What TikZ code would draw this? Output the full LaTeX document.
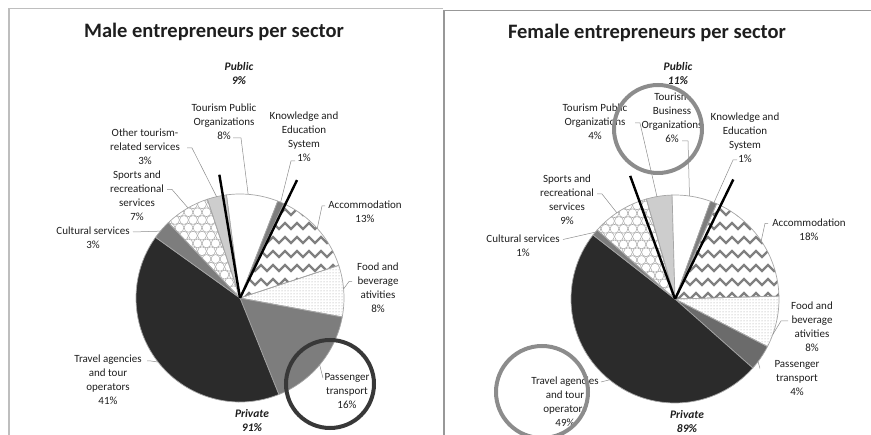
\documentclass[tikz,border=0pt]{standalone}
\usepackage{fontspec}
\setmainfont{Carlito}
\usepackage{xcolor}
\usetikzlibrary{patterns,decorations.pathmorphing}
\definecolor{ink}{RGB}{30,30,30}
\definecolor{dark}{RGB}{43,43,43}
\definecolor{midgray}{RGB}{125,125,125}
\definecolor{lightgray}{RGB}{205,205,205}
\definecolor{edge}{RGB}{166,166,166}
\definecolor{leader}{RGB}{140,140,140}
\definecolor{frame}{RGB}{190,190,190}
\tikzset{
  lbl/.style={font=\fontsize{11}{14}\selectfont, align=center, inner sep=0pt, text=ink},
  sect/.style={font=\fontsize{11.5}{14}\selectfont\bfseries\itshape, align=center, inner sep=0pt, text=ink},
  heading/.style={font=\fontsize{20.5}{24}\selectfont\bfseries, inner sep=0pt, text=ink},
  slice/.style={draw=edge, line width=0.7pt},
  lead/.style={draw=leader, line width=0.5pt},
  cut/.style={draw=black, line width=2.4pt},
  zz/.style={draw=black!50, line width=2.2pt, decorate, decoration={zigzag, segment length=12pt, amplitude=3pt}},
  bubble/.style={draw=black!35, line width=0.5pt},
  ring/.style={line width=4pt}
}
\begin{document}
\begin{tikzpicture}[x=1pt, y=1pt]
\useasboundingbox (0,0) rectangle (871,-435);
% Frames
\draw[frame, line width=1.2pt] (443,-8.5) -- (9,-8.5) -- (9,-435);
\draw[frame!80!black, line width=1.2pt] (871,-10.5) -- (444,-10.5) -- (444,-435);

% ---------------- Male chart ----------------
\coordinate (mc) at (240,-298);
\foreach \a/\b/\col in {97.5/68.7/white, 68.7/65.1/midgray, -10.5/-68.1/midgray, -68.1/-215.7/dark, -215.7/-226.5/midgray, -251.7/-262.5/lightgray}
  \draw[slice, fill=\col] (mc) -- ++(\a:104) arc[start angle=\a, end angle=\b, radius=104] -- cycle;
% Food: dots
\draw[slice, pattern=dots, pattern color=black!40] (mc) -- ++(18.3:104) arc[start angle=18.3, end angle=-10.5, radius=104] -- cycle;
% Accommodation: zigzag
\begin{scope}
  \clip (mc) -- ++(65.1:104) arc[start angle=65.1, end angle=18.3, radius=104] -- cycle;
  \foreach \yy in {2,16,...,100}
    \draw[zz] ([shift={(-6,\yy)}]mc) -- ++(118,0);
\end{scope}
\draw[slice] (mc) -- ++(65.1:104) arc[start angle=65.1, end angle=18.3, radius=104] -- cycle;
% Sports: circles
\begin{scope}
  \clip (mc) -- ++(-226.5:104) arc[start angle=-226.5, end angle=-251.7, radius=104] -- cycle;
  \foreach \j [evaluate=\j as \off using {4.5*mod(\j,2)}] in {0,...,14}
    \foreach \i in {0,...,11}
      \draw[bubble] ([shift={({-92+9*\i+\off},{7.8*\j})}]mc) circle (4.4);
\end{scope}
\draw[slice] (mc) -- ++(-226.5:104) arc[start angle=-226.5, end angle=-251.7, radius=104] -- cycle;
\draw[cut] (mc) -- ++(99.5:125);
\draw[cut] (mc) -- ++(64.2:131);

% Labels
\node[heading] (mtitle) at (214,-32) {Male entrepreneurs per sector};
\node[sect] (mpub) at (239,-74) {Public\\9\%};
\node[lbl] (mtpo) at (224,-122) {Tourism Public\\Organizations\\8\%};
\node[lbl] (mkes) at (304,-137) {Knowledge and\\Education\\System\\1\%};
\node[lbl] (mother) at (145,-147) {Other tourism-\\related services\\3\%};
\node[lbl] (msport) at (137,-195.5) {Sports and\\recreational\\services\\7\%};
\node[lbl] (mcult) at (93,-238) {Cultural services\\3\%};
\node[lbl] (macc) at (365,-212) {Accommodation\\13\%};
\node[lbl] (mfood) at (378,-287.5) {Food and\\beverage\\ativities\\8\%};
\node[lbl] (mpass) at (347,-391) {Passenger\\transport\\16\%};
\node[lbl] (mtrav) at (108,-380) {Travel agencies\\and tour\\operators\\41\%};
\node[sect] (mpriv) at (252,-421) {Private\\91\%};

% Leaders
\draw[lead] ([shift={(9,-16)}]mtpo.center) -- ++(8,0) -- ([shift={(85.5:104)}]mc);
\draw[lead] ([shift={(-9,-24)}]mkes.center) -- ++(-4,0) -- ([shift={(67:104)}]mc);
\draw[lead] ([shift={(42,-1)}]mother.center) -- ++(5,0) -- ([shift={(103:104)}]mc);
\draw[lead] ([shift={(30,6)}]msport.center) -- ++(5,0) -- ([shift={(120:104)}]mc);
\draw[lead] ([shift={(40,6)}]mcult.center) -- ([shift={(140:104)}]mc);
\draw[lead] ([shift={(-40,6)}]macc.center) -- ++(-3,0) -- ([shift={(42:104)}]mc);
\draw[lead] ([shift={(-26,6)}]mfood.center) -- ++(-3,0) -- ([shift={(5:104)}]mc);
\draw[lead] ([shift={(-24,13)}]mpass.center) -- ([shift={(-40:104)}]mc);
\draw[lead] ([shift={(39,19)}]mtrav.center) -- ++(4,0) -- ([shift={(218:104)}]mc);
\draw[ring, draw=black!78] (330,-384) circle (44);

% ---------------- Female chart ----------------
\coordinate (fc) at (675,-299);
\foreach \a/\b/\col in {106/91.6/lightgray, 91.6/70/white, 70/66.4/midgray, -27.2/-41.6/black!58, -41.6/-218/dark, -218/-221.6/midgray}
  \draw[slice, fill=\col] (fc) -- ++(\a:104) arc[start angle=\a, end angle=\b, radius=104] -- cycle;
% Food: dots
\draw[slice, pattern=dots, pattern color=black!40] (fc) -- ++(1.6:104) arc[start angle=1.6, end angle=-27.2, radius=104] -- cycle;
% Accommodation: zigzag
\begin{scope}
  \clip (fc) -- ++(66.4:104) arc[start angle=66.4, end angle=1.6, radius=104] -- cycle;
  \foreach \yy in {3,17,...,101}
    \draw[zz] ([shift={(-6,\yy)}]fc) -- ++(118,0);
\end{scope}
\draw[slice] (fc) -- ++(66.4:104) arc[start angle=66.4, end angle=1.6, radius=104] -- cycle;
% Sports: circles
\begin{scope}
  \clip (fc) -- ++(-221.6:104) arc[start angle=-221.6, end angle=-254, radius=104] -- cycle;
  \foreach \j [evaluate=\j as \off using {4.5*mod(\j,2)}] in {0,...,14}
    \foreach \i in {0,...,11}
      \draw[bubble] ([shift={({-92+9*\i+\off},{7.8*\j})}]fc) circle (4.4);
\end{scope}
\draw[slice] (fc) -- ++(-221.6:104) arc[start angle=-221.6, end angle=-254, radius=104] -- cycle;
\draw[cut] (fc) -- ++(110:131);
\draw[cut] (fc) -- ++(64:133);

% Labels
\node[heading] (ftitle) at (647,-33) {Female entrepreneurs per sector};
\node[sect] (fpub) at (678,-74) {Public\\11\%};
\node[lbl] (ftbo) at (672,-118) {Tourism\\Business\\Organizations\\6\%};
\node[lbl] (ftpo) at (595,-122) {Tourism Public\\Organizations\\4\%};
\node[lbl] (fkes) at (745,-138) {Knowledge and\\Education\\System\\1\%};
\node[lbl] (fsport) at (567,-200) {Sports and\\recreational\\services\\9\%};
\node[lbl] (fcult) at (523,-245.5) {Cultural services\\1\%};
\node[lbl] (facc) at (809,-229.5) {Accommodation\\18\%};
\node[lbl] (ffood) at (812,-327) {Food and\\beverage\\ativities\\8\%};
\node[lbl] (fpass) at (797,-378.5) {Passenger\\transport\\4\%};
\node[lbl] (ftrav) at (565,-402) {Travel agencies\\and tour\\operators\\49\%};
\node[sect] (fpriv) at (687,-421.5) {Private\\89\%};

% Leaders
\draw[lead] ([shift={(10,-23)}]ftbo.center) -- ++(6,0) -- ([shift={(82:104)}]fc);
\draw[lead] ([shift={(40,-1)}]ftpo.center) -- ++(5,0) -- ([shift={(100:104)}]fc);
\draw[lead] ([shift={(-8,-22)}]fkes.center) -- ++(-4,0) -- ([shift={(68:104)}]fc);
\draw[lead] ([shift={(30,6)}]fsport.center) -- ++(5,0) -- ([shift={(124:104)}]fc);
\draw[lead] ([shift={(40,6)}]fcult.center) -- ([shift={(140:104)}]fc);
\draw[lead] ([shift={(-41,6)}]facc.center) -- ++(-3,0) -- ([shift={(34:104)}]fc);
\draw[lead] ([shift={(-24,6)}]ffood.center) -- ++(-7,0) -- ([shift={(-20:104)}]fc);
\draw[lead] ([shift={(-37,10)}]fpass.center) -- ([shift={(-37:104)}]fc);
\draw[lead] ([shift={(36,20)}]ftrav.center) -- ([shift={(231:104)}]fc);
\draw[ring, draw=black!45] (658,-129) circle (44);
\draw[ring, draw=black!45] (542,-392) circle (46);
\end{tikzpicture}
\end{document}
